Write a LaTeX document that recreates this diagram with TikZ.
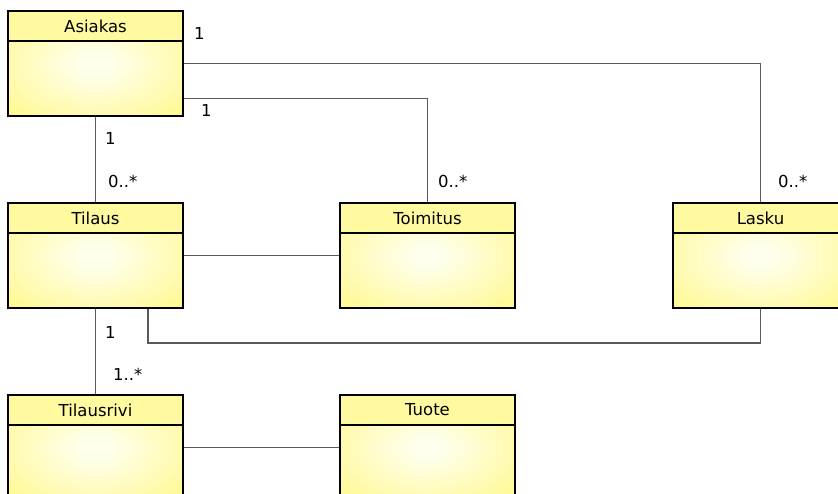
\documentclass[tikz,border=0pt]{standalone}
\usepackage{fontspec}
\setmainfont{DejaVu Sans}

\definecolor{headfill}{RGB}{255,250,160}
\definecolor{bodyin}{RGB}{255,255,238}
\definecolor{bodyout}{RGB}{255,248,140}
\definecolor{linkgray}{RGB}{90,90,90}

% soft glow in the body of a class box
\pgfdeclareradialshading{classglow}{\pgfpoint{0bp}{0bp}}{color(0bp)=(bodyin); color(4bp)=(bodyin); color(36bp)=(bodyout); color(50bp)=(bodyout)}

\tikzset{
  classbody/.style={draw=black, line width=1.9pt, shade, shading=classglow,
    minimum width=175pt, minimum height=105pt, inner sep=0pt},
  classhead/.style={draw=black, line width=1.9pt, fill=headfill, anchor=north,
    minimum width=175pt, minimum height=30pt, inner sep=0pt,
    font=\fontsize{16.5}{19}\selectfont},
  link/.style={draw=linkgray, line width=1.7pt},
  mult/.style={anchor=base west, inner sep=0pt, font=\fontsize{16.5}{19}\selectfont},
}

\begin{document}
\begin{tikzpicture}[x=1pt,y=-1pt]
    \useasboundingbox (0,0) rectangle (838,494);

    % Draw the classes
    \node[classbody] (asiakas) at (95.5,63.5) {};
    \node[classhead] (asiakas-head) at (asiakas.north) {Asiakas};
    \node[classbody] (tilaus) at (95.5,255.5) {};
    \node[classhead] (tilaus-head) at (tilaus.north) {Tilaus};
    \node[classbody] (toimitus) at (427.5,255.5) {};
    \node[classhead] (toimitus-head) at (toimitus.north) {Toimitus};
    \node[classbody] (lasku) at (760.5,255.5) {};
    \node[classhead] (lasku-head) at (lasku.north) {Lasku};
    \node[classbody] (tilausrivi) at (95.5,447.5) {};
    \node[classhead] (tilausrivi-head) at (tilausrivi.north) {Tilausrivi};
    \node[classbody] (tuote) at (427.5,447.5) {};
    \node[classhead] (tuote-head) at (tuote.north) {Tuote};

    % Associations
    \draw[link] (asiakas.east) -| (lasku.north);
    \draw[link] ([yshift=-35pt]asiakas.east) -| (toimitus.north);
    \draw[link] (asiakas) -- (tilaus);
    \draw[link] (tilaus) -- (toimitus);
    \draw[link] ([xshift=52.5pt]tilaus.south) |- ([yshift=-34pt]lasku.south) -- (lasku.south);
    \draw[link] (tilaus) -- (tilausrivi);
    \draw[link] (tilausrivi) -- (tuote);

    % Multiplicities
    \node[mult] (m-asiakas-lasku) at (194,40) {1};
    \node[mult] (m-asiakas-toimitus) at (201,117) {1};
    \node[mult] (m-asiakas-tilaus) at (105,145) {1};
    \node[mult] (m-tilaus) at (108,188) {0..*};
    \node[mult] (m-toimitus) at (438,188) {0..*};
    \node[mult] (m-lasku) at (778,188) {0..*};
    \node[mult] (m-tilaus-tilausrivi) at (105,338) {1};
    \node[mult] (m-tilausrivi) at (113,380) {1..*};
\end{tikzpicture}
\end{document}
